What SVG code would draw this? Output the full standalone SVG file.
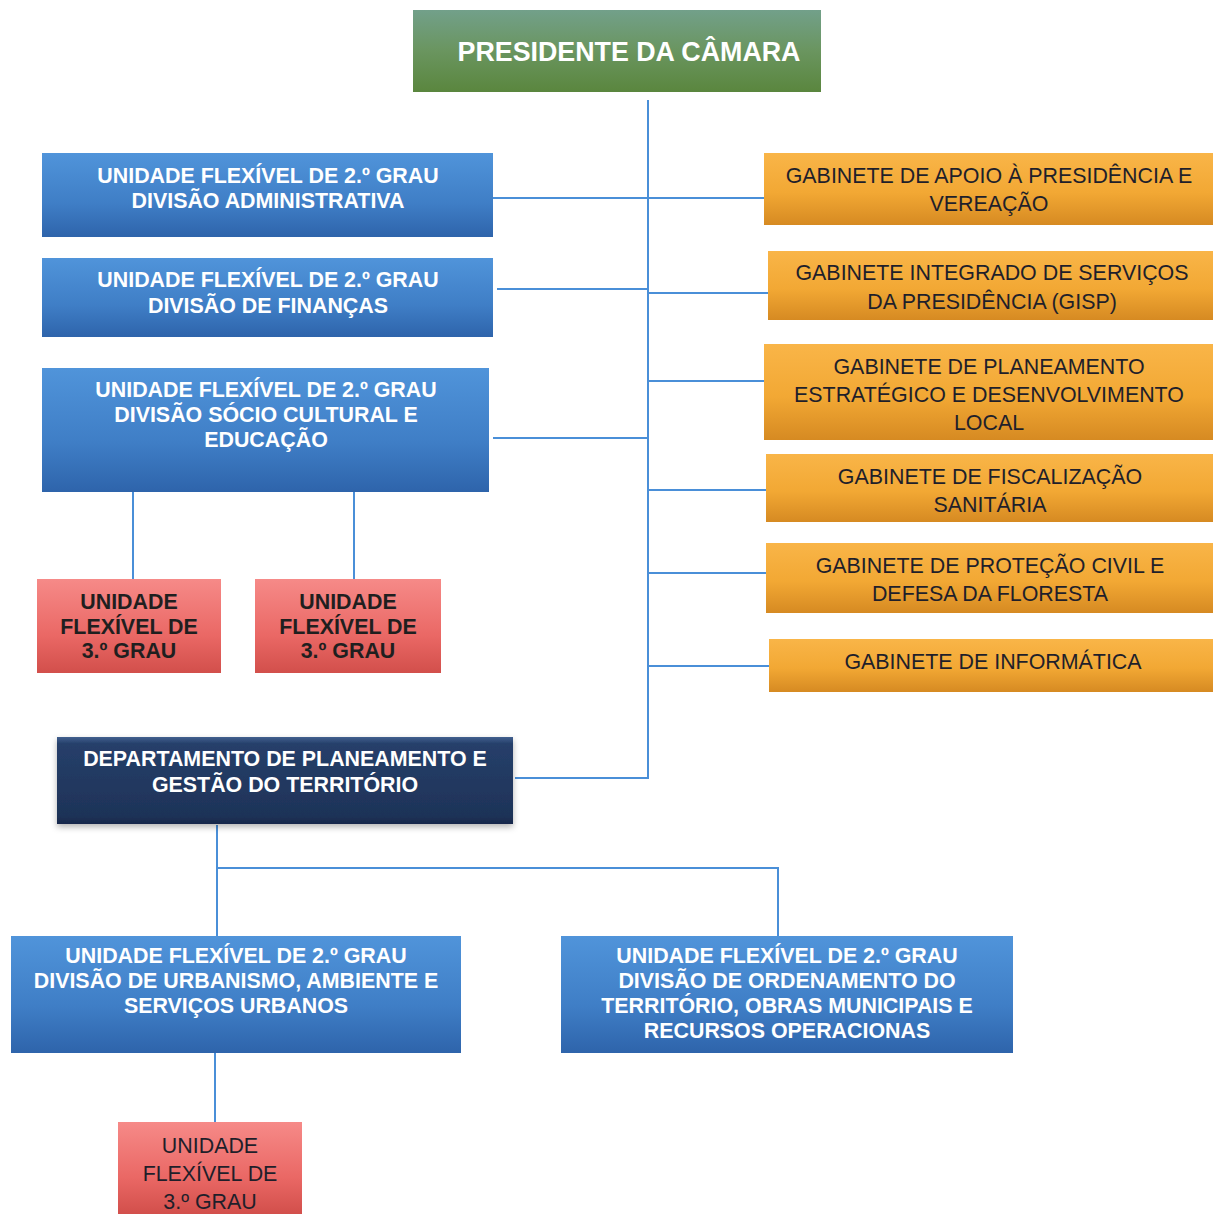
<svg xmlns="http://www.w3.org/2000/svg" width="1213" height="1214" viewBox="0 0 1213 1214">
<defs>
<linearGradient id="gGreen" x1="0" y1="0" x2="0" y2="1"><stop offset="0" stop-color="#72a08a"/><stop offset="0.5" stop-color="#6a955f"/><stop offset="1" stop-color="#5a863e"/></linearGradient>
<linearGradient id="gBlue" x1="0" y1="0" x2="0" y2="1"><stop offset="0" stop-color="#5094da"/><stop offset="0.6" stop-color="#3f7ec6"/><stop offset="1" stop-color="#2e64ab"/></linearGradient>
<linearGradient id="gOrange" x1="0" y1="0" x2="0" y2="1"><stop offset="0" stop-color="#f9b548"/><stop offset="0.55" stop-color="#f2a834"/><stop offset="1" stop-color="#d68a22"/></linearGradient>
<linearGradient id="gRed" x1="0" y1="0" x2="0" y2="1"><stop offset="0" stop-color="#f68a88"/><stop offset="0.6" stop-color="#ea6865"/><stop offset="1" stop-color="#d24f4b"/></linearGradient>
<linearGradient id="gNavy" x1="0" y1="0" x2="0" y2="1"><stop offset="0" stop-color="#41608f"/><stop offset="0.08" stop-color="#263f6a"/><stop offset="0.9" stop-color="#1e3358"/><stop offset="1" stop-color="#16264a"/></linearGradient>
<filter id="sh" x="-5%" y="-10%" width="110%" height="130%"><feDropShadow dx="0" dy="3" stdDeviation="3" flood-color="#000" flood-opacity="0.3"/></filter>
</defs>
<style>
text{font-family:"Liberation Sans",Arial,sans-serif;font-size:21.4px;text-anchor:middle}
.w{fill:#ffffff;font-weight:bold}
.d{fill:#1f1f2a}
.db{fill:#1f1f1f;font-weight:bold}
.c{stroke:#4a8fd8;stroke-width:2;fill:none}
</style>
<rect width="1213" height="1214" fill="#ffffff"/>
<g id="connectors">
<path class="c" d="M648 100V778H515"/>
<path class="c" d="M493 198H764"/>
<path class="c" d="M497 289H648"/>
<path class="c" d="M648 293H768"/>
<path class="c" d="M493 438H648"/>
<path class="c" d="M648 381H764"/>
<path class="c" d="M648 490H766"/>
<path class="c" d="M648 573H766"/>
<path class="c" d="M648 666H769"/>
<path class="c" d="M133 492V580"/>
<path class="c" d="M354 492V580"/>
<path class="c" d="M217 825V936"/>
<path class="c" d="M217 868H778V936"/>
<path class="c" d="M215 1053V1122"/>
</g>
<g id="presidente">
<rect x="413" y="10" width="408" height="82" fill="url(#gGreen)"/>
<text class="w" x="629" y="61" style="font-size:26.8px">PRESIDENTE DA CÂMARA</text>
</g>
<g id="div-administrativa">
<rect x="42" y="153" width="451" height="84" fill="url(#gBlue)"/>
<text class="w" x="268" y="183">UNIDADE FLEXÍVEL DE 2.º GRAU</text>
<text class="w" x="268" y="208">DIVISÃO ADMINISTRATIVA</text>
</g>
<g id="div-financas">
<rect x="42" y="258" width="451" height="79" fill="url(#gBlue)"/>
<text class="w" x="268" y="287">UNIDADE FLEXÍVEL DE 2.º GRAU</text>
<text class="w" x="268" y="313">DIVISÃO DE FINANÇAS</text>
</g>
<g id="div-socio-cultural">
<rect x="42" y="368" width="447" height="124" fill="url(#gBlue)"/>
<text class="w" x="266" y="397">UNIDADE FLEXÍVEL DE 2.º GRAU</text>
<text class="w" x="266" y="422">DIVISÃO SÓCIO CULTURAL E</text>
<text class="w" x="266" y="447">EDUCAÇÃO</text>
</g>
<g id="ufg3-a">
<rect x="37" y="579" width="184" height="94" fill="url(#gRed)"/>
<text class="db" x="129" y="609">UNIDADE</text>
<text class="db" x="129" y="634">FLEXÍVEL DE</text>
<text class="db" x="129" y="658">3.º GRAU</text>
</g>
<g id="ufg3-b">
<rect x="255" y="579" width="186" height="94" fill="url(#gRed)"/>
<text class="db" x="348" y="609">UNIDADE</text>
<text class="db" x="348" y="634">FLEXÍVEL DE</text>
<text class="db" x="348" y="658">3.º GRAU</text>
</g>
<g id="gab-apoio">
<rect x="764" y="153" width="449" height="72" fill="url(#gOrange)"/>
<text class="d" x="989" y="183">GABINETE DE APOIO À PRESIDÊNCIA E</text>
<text class="d" x="989" y="211">VEREAÇÃO</text>
</g>
<g id="gab-gisp">
<rect x="768" y="251" width="445" height="69" fill="url(#gOrange)"/>
<text class="d" x="992" y="280">GABINETE INTEGRADO DE SERVIÇOS</text>
<text class="d" x="992" y="309">DA PRESIDÊNCIA (GISP)</text>
</g>
<g id="gab-planeamento">
<rect x="764" y="344" width="449" height="96" fill="url(#gOrange)"/>
<text class="d" x="989" y="374">GABINETE DE PLANEAMENTO</text>
<text class="d" x="989" y="402">ESTRATÉGICO E DESENVOLVIMENTO</text>
<text class="d" x="989" y="430">LOCAL</text>
</g>
<g id="gab-fiscalizacao">
<rect x="766" y="454" width="447" height="68" fill="url(#gOrange)"/>
<text class="d" x="990" y="484">GABINETE DE FISCALIZAÇÃO</text>
<text class="d" x="990" y="512">SANITÁRIA</text>
</g>
<g id="gab-protecao-civil">
<rect x="766" y="543" width="447" height="70" fill="url(#gOrange)"/>
<text class="d" x="990" y="573">GABINETE DE PROTEÇÃO CIVIL E</text>
<text class="d" x="990" y="601">DEFESA DA FLORESTA</text>
</g>
<g id="gab-informatica">
<rect x="769" y="639" width="444" height="53" fill="url(#gOrange)"/>
<text class="d" x="993" y="669">GABINETE DE INFORMÁTICA</text>
</g>
<g id="departamento">
<rect x="57" y="737" width="456" height="87" fill="url(#gNavy)" filter="url(#sh)"/>
<text class="w" x="285" y="766">DEPARTAMENTO DE PLANEAMENTO E</text>
<text class="w" x="285" y="792">GESTÃO DO TERRITÓRIO</text>
</g>
<g id="div-urbanismo">
<rect x="11" y="936" width="450" height="117" fill="url(#gBlue)"/>
<text class="w" x="236" y="963">UNIDADE FLEXÍVEL DE 2.º GRAU</text>
<text class="w" x="236" y="988">DIVISÃO DE URBANISMO, AMBIENTE E</text>
<text class="w" x="236" y="1013">SERVIÇOS URBANOS</text>
</g>
<g id="div-ordenamento">
<rect x="561" y="936" width="452" height="117" fill="url(#gBlue)"/>
<text class="w" x="787" y="963">UNIDADE FLEXÍVEL DE 2.º GRAU</text>
<text class="w" x="787" y="988">DIVISÃO DE ORDENAMENTO DO</text>
<text class="w" x="787" y="1013">TERRITÓRIO, OBRAS MUNICIPAIS E</text>
<text class="w" x="787" y="1038">RECURSOS OPERACIONAS</text>
</g>
<g id="ufg3-c">
<rect x="118" y="1122" width="184" height="92" fill="url(#gRed)"/>
<text class="d" x="210" y="1153">UNIDADE</text>
<text class="d" x="210" y="1181">FLEXÍVEL DE</text>
<text class="d" x="210" y="1209">3.º GRAU</text>
</g>
</svg>
